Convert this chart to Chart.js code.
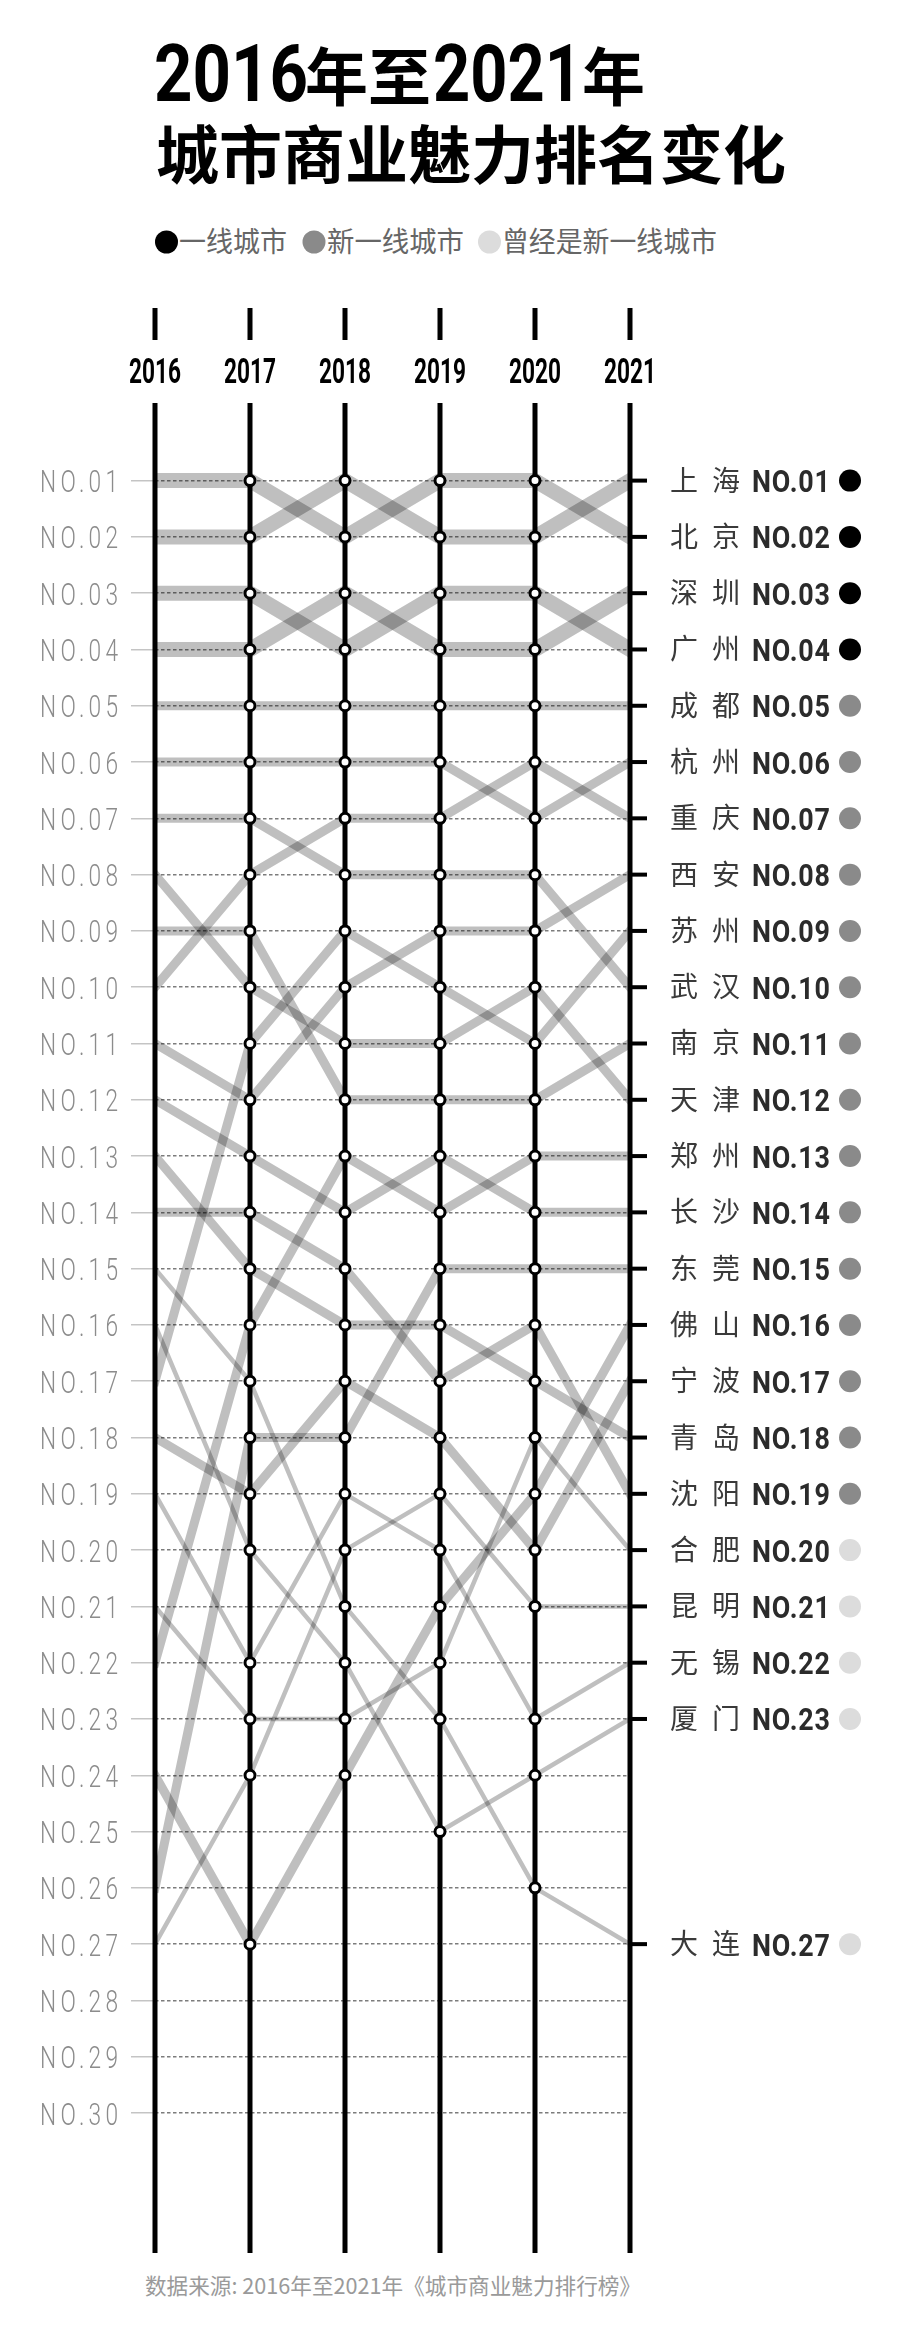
<!DOCTYPE html>
<html>
<head>
<meta charset="utf-8">
<script src="https://cdn.jsdelivr.net/npm/chart.js@4.4.1/dist/chart.umd.min.js"></script>
<style>
html,body{margin:0;padding:0;background:#fff;}
body{width:900px;height:2334px;position:relative;overflow:hidden;}
#txt{position:absolute;left:0;top:0;width:900px;height:2334px;}
#wrap{position:absolute;left:0;top:290px;width:900px;height:2000px;}
</style>
</head>
<body>
<svg id="txt" width="900" height="2334" xmlns="http://www.w3.org/2000/svg">
  <g font-weight="700" fill="#000">
    <text x="154" y="101" font-family="Roboto" font-size="80" textLength="154" lengthAdjust="spacingAndGlyphs">2016</text>
    <text x="305" y="100" font-family="Noto Sans CJK SC" font-size="63">年至</text>
    <text x="433" y="101" font-family="Roboto" font-size="80" textLength="149" lengthAdjust="spacingAndGlyphs">2021</text>
    <text x="582" y="100" font-family="Noto Sans CJK SC" font-size="63">年</text>
    <text x="156" y="178" font-family="Noto Sans CJK SC" font-size="63">城市商业魅力排名变化</text>
  </g>
  <g font-family="Noto Sans CJK SC" font-size="28" fill="#666">
    <circle cx="166.5" cy="242" r="11.5" fill="#000"/>
    <text x="179" y="252" textLength="108" lengthAdjust="spacingAndGlyphs">一线城市</text>
    <circle cx="314" cy="242" r="11.5" fill="#8a8a8a"/>
    <text x="327" y="252" textLength="137" lengthAdjust="spacingAndGlyphs">新一线城市</text>
    <circle cx="489.5" cy="242" r="11.5" fill="#dcdcdc"/>
    <text x="502" y="252" textLength="215" lengthAdjust="spacingAndGlyphs">曾经是新一线城市</text>
  </g>
  <text x="145" y="2294" font-family="Noto Sans CJK SC" font-size="22" fill="#9a9a9a" textLength="496" lengthAdjust="spacingAndGlyphs">数据来源: 2016年至2021年《城市商业魅力排行榜》</text>
</svg>
<div id="wrap"><canvas id="c"></canvas></div>
<script>
// ---- data ----
const years = [2016, 2017, 2018, 2019, 2020, 2021];
const yearLabels = ['2016', '2017', '2018', '2019', '2020', '2021'];
const rankTicks = [1,2,3,4,5,6,7,8,9,10,11,12,13,14,15,16,17,18,19,20,21,22,23,24,25,26,27,28,29,30];
const rankLabels = ['NO.01','NO.02','NO.03','NO.04','NO.05','NO.06','NO.07','NO.08','NO.09','NO.10',
  'NO.11','NO.12','NO.13','NO.14','NO.15','NO.16','NO.17','NO.18','NO.19','NO.20',
  'NO.21','NO.22','NO.23','NO.24','NO.25','NO.26','NO.27','NO.28','NO.29','NO.30'];
const legendLabels = ['一线城市', '新一线城市', '曾经是新一线城市'];

// ranks per year 2016..2021
const shanghai  = [2, 2, 1, 2, 2, 1];
const beijing   = [1, 1, 2, 1, 1, 2];
const shenzhen  = [4, 4, 3, 4, 4, 3];
const guangzhou = [3, 3, 4, 3, 3, 4];
const chengdu   = [5, 5, 5, 5, 5, 5];
const hangzhou  = [6, 6, 6, 6, 7, 6];
const chongqing = [10, 8, 7, 7, 6, 7];
const xian      = [11, 12, 10, 9, 9, 8];
const suzhou    = [17, 11, 9, 10, 11, 9];
const wuhan     = [7, 7, 8, 8, 8, 10];
const nanjing   = [9, 9, 12, 12, 12, 11];
const tianjin   = [8, 10, 11, 11, 10, 12];
const zhengzhou = [22, 16, 13, 14, 13, 13];
const changsha  = [12, 13, 14, 13, 14, 14];
const dongguan  = [26, 18, 18, 15, 15, 15];
const foshan    = [24, 27, 24, 21, 19, 16];
const ningbo    = [18, 19, 17, 18, 20, 17];
const qingdao   = [13, 15, 16, 16, 17, 18];
const shenyang  = [14, 14, 15, 17, 16, 19];
const hefei     = [21, 23, 23, 22, 18, 20];
const kunming   = [27, 24, 20, 19, 21, 21];
const wuxi      = [19, 22, 19, 20, 23, 22];
const xiamen    = [16, 20, 22, 25, 24, 23];
const dalian    = [15, 17, 21, 23, 26, 27];

const cityNames = ['上海','北京','深圳','广州','成都','杭州','重庆','西安','苏州','武汉','南京','天津',
  '郑州','长沙','东莞','佛山','宁波','青岛','沈阳','合肥','昆明','无锡','厦门','大连'];
const cityRanks = [shanghai, beijing, shenzhen, guangzhou, chengdu, hangzhou, chongqing, xian, suzhou,
  wuhan, nanjing, tianjin, zhengzhou, changsha, dongguan, foshan, ningbo, qingdao, shenyang,
  hefei, kunming, wuxi, xiamen, dalian];
const cityTiers = [1,1,1,1, 2,2,2,2,2,2,2,2,2,2,2,2,2,2,2, 3,3,3,3,3];

// ---- styles ----
const tierWidth = {1: 15, 2: 9, 3: 4.5};
const tierColor = {1: '#000000', 2: '#8a8a8a', 3: '#dcdcdc'};
const bandColor = 'rgba(0,0,0,0.25)';
const PAGE_TOP = 290;

function drawFit(ctx, text, x, y, font, targetW, align, color, spacing) {
  ctx.save();
  ctx.font = font;
  ctx.fillStyle = color;
  ctx.letterSpacing = (spacing || 0) + 'px';
  const w = ctx.measureText(text).width - (spacing || 0);
  const sx = targetW / w;
  const left = align === 'right' ? x - targetW : (align === 'center' ? x - targetW / 2 : x);
  ctx.translate(left, y);
  ctx.scale(sx, 1);
  ctx.textAlign = 'left';
  ctx.textBaseline = 'alphabetic';
  ctx.fillText(text, 0, 0);
  ctx.restore();
}

const datasets = cityNames.map((name, i) => ({
  type: 'line',
  label: name,
  data: years.map((yr, j) => ({x: yr, y: cityRanks[i][j]})),
  borderColor: bandColor,
  borderWidth: tierWidth[cityTiers[i]],
  borderCapStyle: 'square',
  borderJoinStyle: 'round',
  pointRadius: 0,
  pointHoverRadius: 0,
  tension: 0,
  fill: false,
  clip: 0,
  order: 2
}));

const pointData = [];
cityRanks.forEach(r => {
  for (let j = 1; j < years.length - 1; j++) pointData.push({x: years[j], y: r[j]});
});
datasets.push({
  type: 'scatter',
  label: 'points',
  data: pointData,
  pointRadius: 5,
  pointBorderWidth: 3,
  pointBackgroundColor: '#ffffff',
  pointBorderColor: '#000000',
  showLine: false,
  clip: false,
  order: 0
});

const decor = {
  id: 'decor',
  beforeDatasetsDraw(chart) {
    const ctx = chart.ctx, xs = chart.scales.x, ys = chart.scales.y, ca = chart.chartArea;
    ctx.save();
    ctx.strokeStyle = '#000';
    ctx.lineWidth = 5;
    years.forEach((yr, j) => {
      const x = xs.getPixelForValue(yr);
      ctx.beginPath();
      ctx.moveTo(x, ca.top);
      ctx.lineTo(x, ca.bottom);
      ctx.moveTo(x, 308 - PAGE_TOP);
      ctx.lineTo(x, 340 - PAGE_TOP);
      ctx.stroke();
      drawFit(ctx, yearLabels[j], x, 382.5 - PAGE_TOP, '700 35px Roboto', 52, 'center', '#000', 0);
    });
    // y tick labels
    rankTicks.forEach((r, k) => {
      const y = ys.getPixelForValue(r);
      drawFit(ctx, rankLabels[k], 118, y + 11.5, '300 32px Roboto', 78, 'right', '#8c8c8c', 6);
    });
    ctx.restore();
  },
  afterDraw(chart) {
    const ctx = chart.ctx, xs = chart.scales.x, ys = chart.scales.y;
    const xr = xs.getPixelForValue(years[years.length - 1]);
    ctx.save();
    cityNames.forEach((name, i) => {
      const r = cityRanks[i][years.length - 1];
      const y = ys.getPixelForValue(r);
      ctx.fillStyle = '#000';
      ctx.fillRect(xr, y - 2, 17, 4);
      ctx.font = '28px "Noto Sans CJK SC"';
      ctx.fillStyle = '#3a3a3a';
      ctx.textAlign = 'center';
      ctx.textBaseline = 'alphabetic';
      ctx.fillText(name[0], 684, y + 10);
      ctx.fillText(name[1], 726, y + 10);
      drawFit(ctx, rankLabels[r - 1], 752, y + 11.5, '700 32px Roboto', 78, 'left', '#2b2b2b', 1);
      ctx.beginPath();
      ctx.arc(850, y, 11, 0, Math.PI * 2);
      ctx.fillStyle = tierColor[cityTiers[i]];
      ctx.fill();
    });
    ctx.restore();
  }
};

new Chart(document.getElementById('c'), {
  type: 'line',
  data: {datasets},
  options: {
    responsive: true,
    maintainAspectRatio: false,
    animation: false,
    events: [],
    layout: {padding: {top: 113, bottom: 37, left: 0, right: 270}},
    plugins: {legend: {display: false}, tooltip: {enabled: false}, title: {display: false}},
    scales: {
      x: {type: 'linear', min: years[0], max: years[years.length - 1], display: false},
      y: {
        type: 'linear', reverse: true, min: -0.3786, max: 32.487,
        afterBuildTicks: s => { s.ticks = rankTicks.map(v => ({value: v})); },
        afterFit: s => { s.width = 155; },
        ticks: {display: false},
        grid: {color: '#7c7c7c', lineWidth: 1.5, drawTicks: true, tickLength: 24, tickColor: '#c4c4c4', tickWidth: 1.5},
        border: {display: false, dash: [3.5, 2.5]}
      }
    }
  },
  plugins: [decor]
});
</script>
</body>
</html>
